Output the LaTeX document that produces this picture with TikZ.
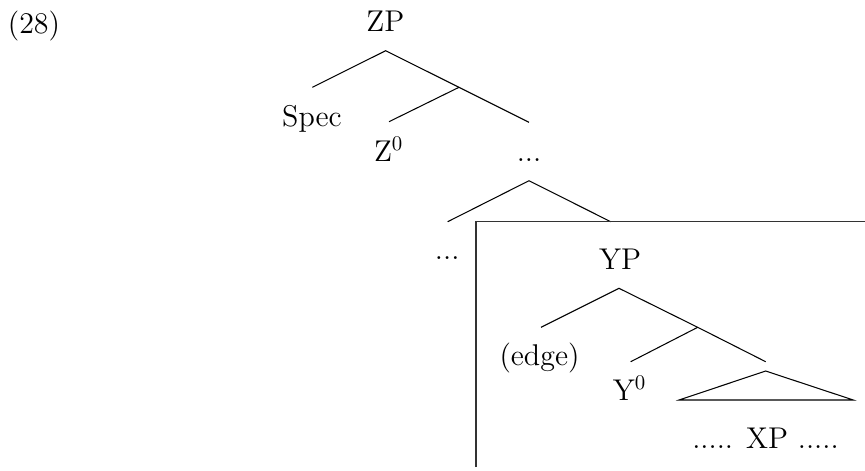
\documentclass[tikz,border=0pt,12pt]{standalone}
\begin{document}
\begin{tikzpicture}[x=0.48pt,y=-0.48pt,
  lbl/.style={anchor=base,inner sep=0pt,font=\fontsize{14.4}{17}\selectfont},
  branch/.style={line width=0.5pt},
  boxline/.style={line width=0.6pt,draw=black!80}]
\useasboundingbox (0,0) rectangle (865,470);
% labels
\node[lbl] (ex) at (34,33.3) {(28)};
\node[lbl] (zp) at (385.3,31.7) {ZP};
\node[lbl] (spec) at (312,126.5) {Spec};
\node[lbl] (z0) at (388.7,161.7) {Z$^0$};
\node[lbl] (dots1) at (529,161.7) {...};
\node[lbl] (dots2) at (447.2,259) {...};
\node[lbl] (yp) at (620,269) {YP};
\node[lbl] (edge) at (539.5,365) {(edge)};
\node[lbl] (y0) at (629.7,400) {Y$^0$};
\node[lbl] (xp) at (765.5,448.3) {..... XP .....};
% tree points
\coordinate (zpA) at (385.7,50.7);
\coordinate (specE) at (312.3,87.3);
\coordinate (zpB) at (459,87.3);
\coordinate (z0E) at (389,121.7);
\coordinate (zpR) at (529,122.3);
\coordinate (dA) at (529,180.7);
\coordinate (dL) at (447.7,221.7);
\coordinate (dR) at (610.7,221.7);
\coordinate (ypA) at (619,288.3);
\coordinate (edgeE) at (541,327.3);
\coordinate (ypB) at (697.7,327.3);
\coordinate (y0E) at (630.7,361.7);
\coordinate (ypR) at (765.7,361.7);
\coordinate (tA) at (765.7,371);
\coordinate (tL) at (679,400);
\coordinate (tR) at (853.3,400);
\coordinate (boxTL) at (476,221.7);
\coordinate (boxTR) at (870,221.7);
\coordinate (boxBL) at (476,467);
% branches
\draw[branch] (specE) -- (zpA) -- (zpB) -- (zpR);
\draw[branch] (zpB) -- (z0E);
\draw[branch] (dL) -- (dA) -- (dR);
\draw[branch] (edgeE) -- (ypA) -- (ypB) -- (ypR);
\draw[branch] (ypB) -- (y0E);
\draw[branch] (tA) -- (tL) -- (tR) -- cycle;
% box
\draw[boxline] (boxBL) -- (boxTL) -- (boxTR);
\end{tikzpicture}
\end{document}
